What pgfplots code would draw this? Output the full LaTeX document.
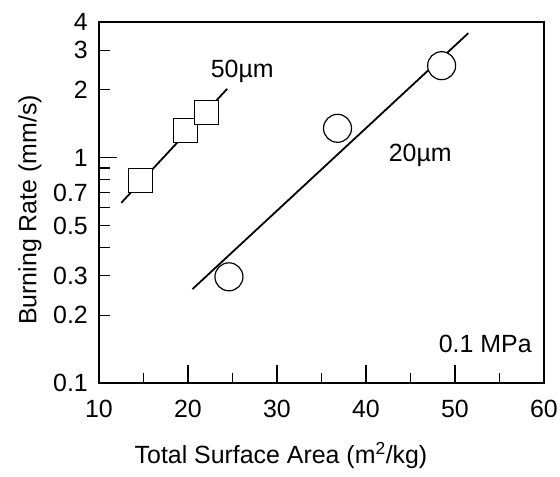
\documentclass[border=0pt]{standalone}
\usepackage{pgfplots}
\pgfplotsset{compat=1.18}
\usepackage{fontspec}
\setmainfont{Liberation Sans}
\begin{document}
\begin{tikzpicture}
\fontsize{25}{30}\selectfont
\begin{axis}[
  scale only axis,
  width=445bp, height=361bp,
  xmin=10, xmax=60,
  ymode=log, ymin=0.1, ymax=4,
  axis line style={line width=2.6pt},
  every tick/.style={black, line width=1.2pt},
  tick align=inside,
  xtick pos=left, ytick pos=left,
  xtick={10,60},
  extra x ticks={20,30,40,50},
  extra x tick style={major tick length=18bp},
  minor xtick={15,25,35,45,55},
  major tick length=11bp,
  minor tick length=10bp,
  ytick={0.1,0.2,0.3,0.4,0.5,0.6,0.7,0.8,0.9,2,3,4},
  yticklabels={0.1,0.2,0.3,,0.5,,0.7,,,2,3,4},
  extra y ticks={1},
  extra y tick labels={1},
  extra y tick style={major tick length=18bp},
  /pgf/number format/assume math mode=true,
  ticklabel style={font=\fontsize{25}{30}\selectfont, inner sep=0pt},
  xticklabel style={yshift=-17bp},
  yticklabel style={xshift=-11bp},
  label style={font=\fontsize{25}{30}\selectfont},
  xlabel={Total Surface Area (m\textsuperscript{2}/kg)},
  ylabel={Burning Rate (mm/s)},
  xlabel style={at={(axis description cs:0.409,-0.2216)}, anchor=base},
  ylabel style={at={(axis description cs:-0.155,0.479)}, anchor=center},
  clip=false,
]
% fit lines
\addplot[black, line width=1.8pt, no marks] coordinates {(12.5,0.63) (24.4,2.02)};
\addplot[black, line width=1.8pt, no marks] coordinates {(20.5,0.261) (51.5,3.57)};
% 50 um squares
\addplot[only marks, mark=square*, mark size=12bp, mark options={fill=white, draw=black, line width=1.2pt}]
  coordinates {(14.7,0.79) (19.7,1.32) (22.1,1.59)};
% 20 um circles
\addplot[only marks, mark=*, mark size=14bp, mark options={fill=white, draw=black, line width=1.2pt}]
  coordinates {(24.6,0.296) (36.8,1.35) (48.5,2.56)};
\node[anchor=base] at (axis cs:26.1,2.26) {50µm};
\node[anchor=base] at (axis cs:46.1,0.957) {20µm};
\node[anchor=base] at (axis cs:53.4,0.136) {0.1 MPa};
\end{axis}
\path (-99bp,-85bp) rectangle (461bp,383bp);
\end{tikzpicture}
\end{document}
